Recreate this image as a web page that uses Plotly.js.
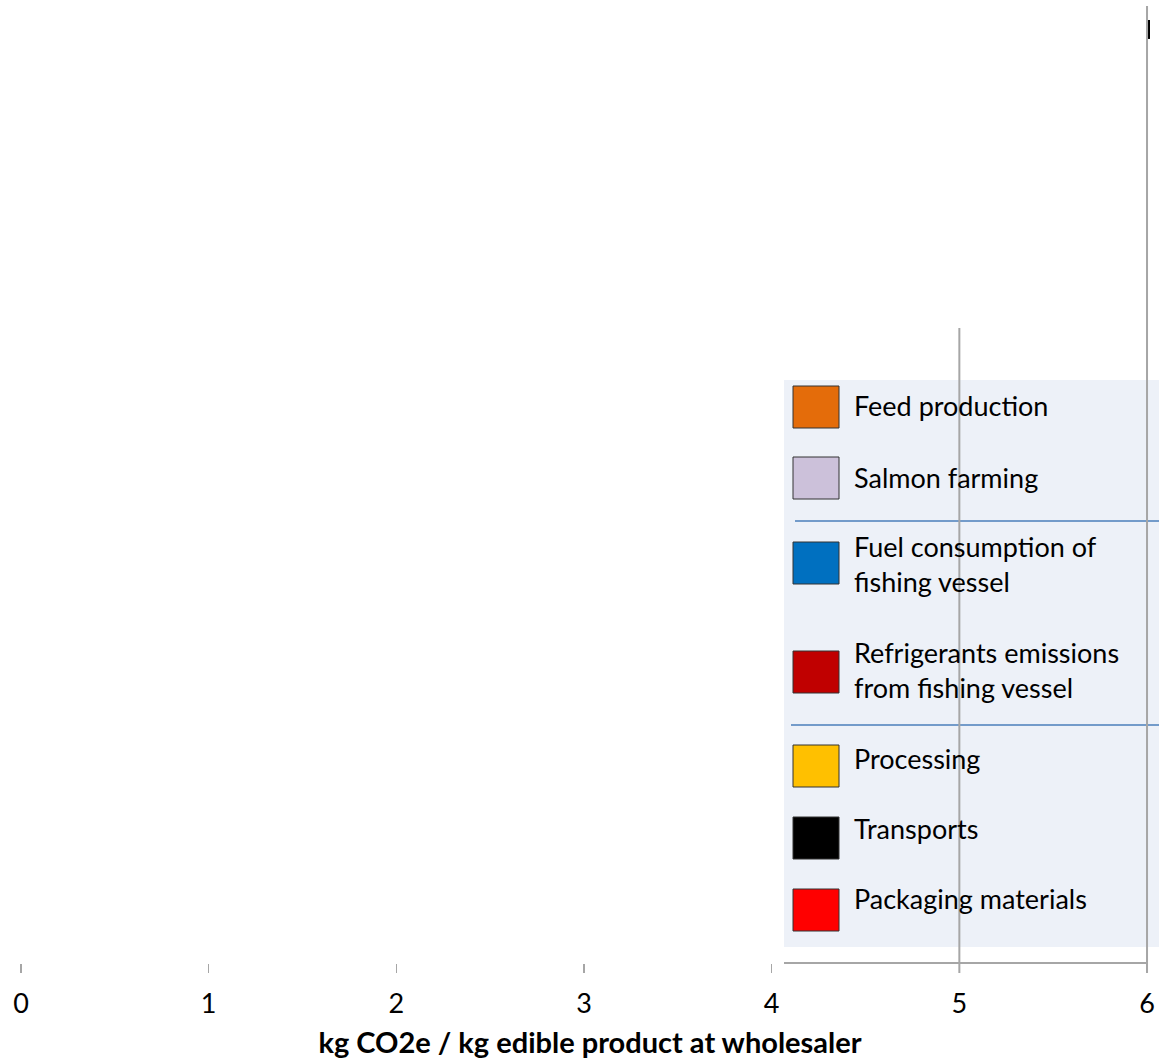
<!DOCTYPE html>
<html>
<head>
<meta charset="utf-8">
<script src="https://cdn.plot.ly/plotly-3.0.1.min.js"></script>
<style>html,body{margin:0;padding:0;background:#fff;}#chart{width:1159px;height:1063px;}</style>
</head>
<body>
<div id="chart"></div>
<script>
// ---- data ----
const legendCategories = ["Feed production", "Salmon farming", "Fuel consumption of<br>fishing vessel", "Refrigerants emissions<br>from fishing vessel", "Processing", "Transports", "Packaging materials"];
const legendColors = ["#E46C0A", "#CCC1DA", "#0070C0", "#C00000", "#FFC000", "#000000", "#FF0000"];
const xTickValues = [0, 1, 2, 3, 4, 5, 6];
const xTickLabels = ["0", "1", "2", "3", "4", "5", "6"];
// visible bar segment (Transports)
const barCategory = ["Transports"];
const barBase = [6.0];
const barValue = [0.016];
const barY = [0.9694];
const xAxisTitle = "kg CO2e / kg edible product at wholesaler";

// ---- layout helpers ----
const W = 1159, H = 1063, ML = 21, MR = 0, MT = 0, MB = 100;
const PW = W - ML - MR, PH = H - MT - MB;
const XMAX = PW / 187.67;
const px = v => (v - ML) / PW;
const py = v => (MT + PH - v) / PH;
const FONT = "Lato, 'Liberation Sans', sans-serif";

// legend layout (pixel positions)
const legSwatchCenters = [407, 478, 563, 672, 766, 838, 910];
const legTextCenters = [405, 477, 564, 670, 758, 828, 898];

const shapes = [];
const annotations = [];
// legend background
shapes.push({type: "rect", xref: "paper", yref: "paper", x0: px(784), x1: px(1159), y0: py(947), y1: py(380), fillcolor: "#EDF1F8", line: {width: 0}, layer: "below"});
// group separators
shapes.push({type: "line", xref: "paper", yref: "paper", x0: px(795), x1: px(1159), y0: py(521), y1: py(521), line: {color: "#4A7EBB", width: 1.5}});
shapes.push({type: "line", xref: "paper", yref: "paper", x0: px(791), x1: px(1159), y0: py(725), y1: py(725), line: {color: "#4A7EBB", width: 1.5}});
legendCategories.forEach((name, i) => {
  const c = legSwatchCenters[i];
  shapes.push({type: "rect", xref: "paper", yref: "paper", x0: px(793), x1: px(839), y0: py(c + 21), y1: py(c - 21), fillcolor: legendColors[i], line: {color: "#333333", width: 1}});
  annotations.push({xref: "paper", yref: "paper", x: px(852), y: py(legTextCenters[i]), xanchor: "left", yanchor: "middle", align: "left", showarrow: false, text: name, font: {family: FONT, size: 27, color: "#000"}});
});
// partial gridlines
shapes.push({type: "line", xref: "x", yref: "paper", x0: 5, x1: 5, y0: py(973), y1: py(328), line: {color: "#A6A6A6", width: 2}});
shapes.push({type: "line", xref: "x", yref: "paper", x0: 6, x1: 6, y0: py(973), y1: py(6), line: {color: "#A6A6A6", width: 2}});
// partial axis line
shapes.push({type: "line", xref: "paper", yref: "paper", x0: px(784), x1: px(1148), y0: py(963), y1: py(963), line: {color: "#A6A6A6", width: 2}});

const traces = [{
  type: "bar", orientation: "h", name: barCategory[0],
  y: barY, x: barValue, base: barBase, width: [0.0197],
  marker: {color: "#000000", line: {width: 0}},
  showlegend: false, hoverinfo: "skip", cliponaxis: false
}];

const layout = {
  width: W, height: H,
  margin: {l: ML, r: MR, t: MT, b: MB, pad: 0},
  paper_bgcolor: "#ffffff", plot_bgcolor: "rgba(0,0,0,0)",
  showlegend: false,
  xaxis: {
    range: [0, XMAX], tickvals: xTickValues, ticktext: xTickLabels,
    showgrid: false, zeroline: false, showline: false,
    ticks: "outside", ticklen: 9, tickwidth: 1.5, tickcolor: "#A6A6A6",
    ticklabelstandoff: 8,
    tickfont: {family: FONT, size: 27, color: "#000"},
    title: {text: "<b>" + xAxisTitle + "</b>", font: {family: FONT, size: 29, color: "#000"}, standoff: 14},
    fixedrange: true
  },
  yaxis: {range: [0, 1], visible: false, fixedrange: true},
  shapes: shapes,
  annotations: annotations
};

Plotly.newPlot("chart", traces, layout, {displayModeBar: false, staticPlot: true});
</script>
</body>
</html>
